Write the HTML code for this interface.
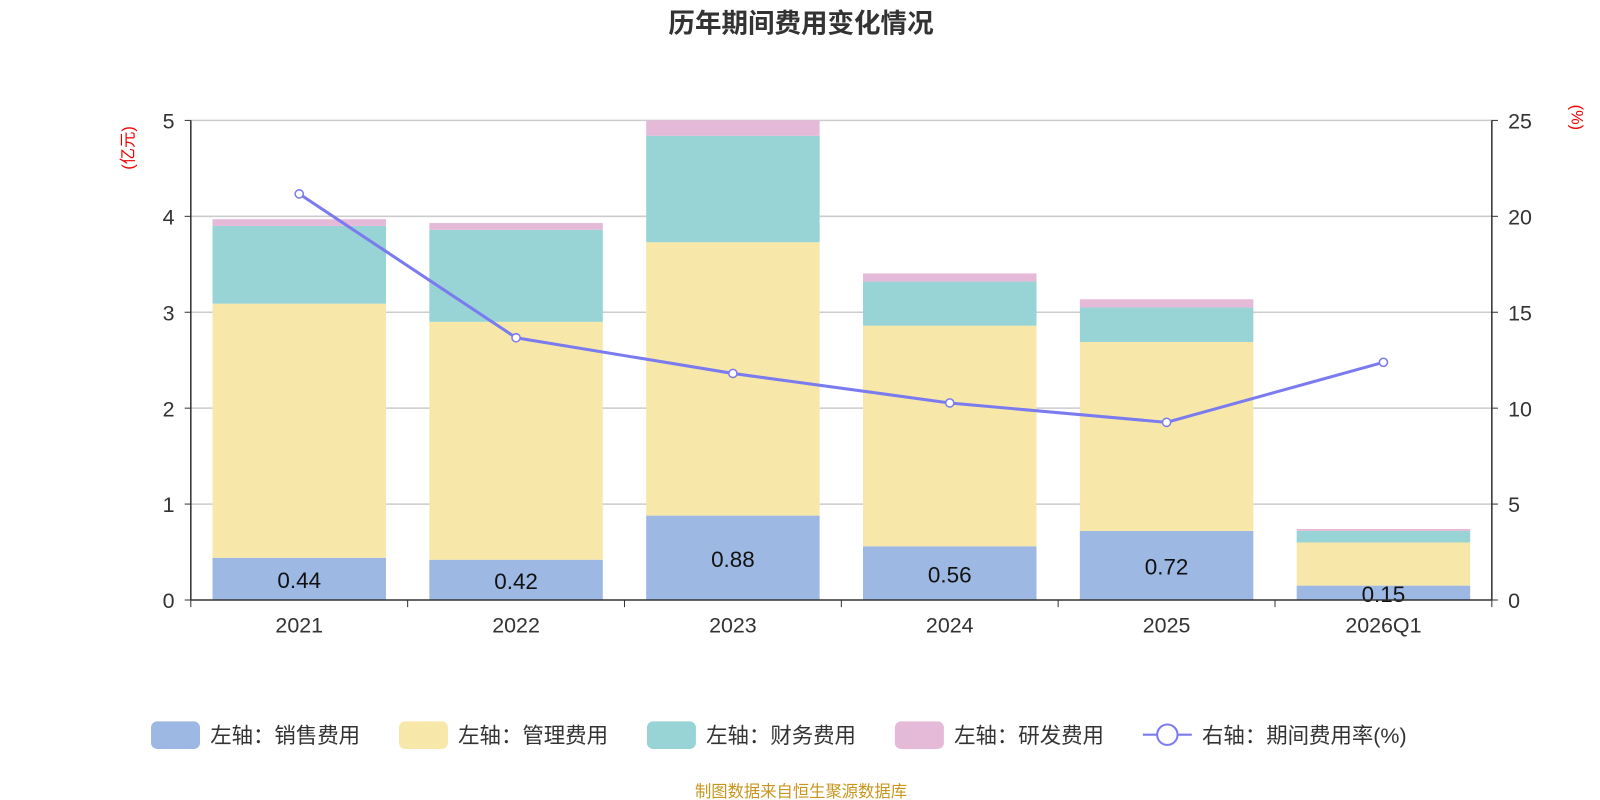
<!DOCTYPE html>
<html><head><meta charset="utf-8"><style>
body{margin:0;background:#fff;font-family:"Liberation Sans","Noto Sans CJK SC",sans-serif}
svg{display:block}
svg text{font-family:"Liberation Sans","Noto Sans CJK SC",sans-serif}
</style></head><body>
<svg id="c" width="1600" height="800" viewBox="0 0 1568 784" preserveAspectRatio="none" xmlns="http://www.w3.org/2000/svg">
<text x="785" y="32" text-anchor="middle" font-size="26" font-weight="bold" fill="#333">历年期间费用变化情况</text>
<text transform="translate(131,145) rotate(-90)" text-anchor="middle" font-size="16" fill="#e00">(亿元)</text>
<text transform="translate(1540,115) rotate(90)" text-anchor="middle" font-size="16" fill="#e00">(%)</text>
<g id="grid"></g><g id="bars"></g><g id="line"></g><g id="axes"></g>
<g id="legend"></g>
<text x="785" y="781" text-anchor="middle" font-size="16" fill="#c8961e">制图数据来自恒生聚源数据库</text>
</svg>
<script>
const categories=["2021","2022","2023","2024","2025","2026Q1"];
const sales=[0.44,0.42,0.88,0.56,0.72,0.15];
const mgmt=[2.65,2.48,2.85,2.30,1.97,0.45];
const fin=[0.81,0.96,1.11,0.46,0.36,0.12];
const rd=[0.07,0.07,0.16,0.085,0.085,0.02];
const rate=[21.17,13.67,11.81,10.27,9.26,12.39];
const leftTicks=[0,1,2,3,4,5];
const rightTicks=[0,5,10,15,20,25];
const NS="http://www.w3.org/2000/svg";
const X0=187,X1=1462,Y0=588,Y1=118;
const band=(X1-X0)/categories.length;
const yL=v=>Y0-(v/5)*(Y0-Y1);
const yR=v=>Y0-(v/25)*(Y0-Y1);
const xc=i=>X0+band*(i+0.5);
function mk(t,a,p){const e=document.createElementNS(NS,t);for(const k in a)e.setAttribute(k,a[k]);p.appendChild(e);return e;}
const grid=document.getElementById('grid'),bars=document.getElementById('bars'),line=document.getElementById('line'),axes=document.getElementById('axes'),legend=document.getElementById('legend');
leftTicks.forEach((t,i)=>{
 if(t>0){const g=mk('line',{x1:X0,x2:X1,y1:yL(t),y2:yL(t),stroke:'#ccc','stroke-width':1.5},grid);
 
 }
 const l=mk('text',{x:X0-16,y:yL(t)+8,'text-anchor':'end','font-size':21,fill:'#333'},axes);l.textContent=t;
 
 
});
rightTicks.forEach(t=>{
 const l=mk('text',{x:X1+16,y:yR(t)+8,'font-size':21,fill:'#333'},axes);l.textContent=t;
 
 
});
mk('line',{x1:X0,x2:X1,y1:Y0,y2:Y0,stroke:'#333','stroke-width':1.5},axes);
mk('line',{x1:X0,x2:X0,y1:Y1,y2:Y0,stroke:'#333','stroke-width':1.5},axes);
mk('line',{x1:X1,x2:X1,y1:Y1,y2:Y0,stroke:'#333','stroke-width':1.5},axes);
leftTicks.forEach(t=>{mk('line',{x1:X0-6,x2:X0,y1:yL(t),y2:yL(t),stroke:'#333'},axes);mk('line',{x1:X1,x2:X1+6,y1:yL(t),y2:yL(t),stroke:'#333'},axes);});
for(let i=0;i<=categories.length;i++)mk('line',{x1:X0+band*i,x2:X0+band*i,y1:Y0,y2:Y0+7,stroke:'#333'},axes);
const series=[[sales,'#9db8e2','sales'],[mgmt,'#f7e8a9','mgmt'],[fin,'#98d4d5','fin'],[rd,'#e5b9d8','rd']];
const bw=170;
categories.forEach((c,i)=>{
 let base=0;
 series.forEach(([arr,col,nm])=>{
  const top=base+arr[i];
  const r=mk('rect',{x:xc(i)-bw/2,y:yL(top),width:bw,height:yL(base)-yL(top),fill:col},bars);
  
  
  base=top;
 });
 const lb=mk('text',{x:xc(i),y:(yL(0)+yL(sales[i]))/2+9,'text-anchor':'middle','font-size':22,fill:'#111'},bars);lb.textContent=sales[i].toFixed(2);
 
 
 const xl=mk('text',{x:xc(i),y:Y0+32,'text-anchor':'middle','font-size':21,fill:'#333'},axes);xl.textContent=c;
 
 
});
const pl=mk('polyline',{points:rate.map((v,i)=>xc(i)+','+yR(v)).join(' '),fill:'none',stroke:'#7b7bf0','stroke-width':3},line);


rate.forEach((v,i)=>{const p=mk('circle',{cx:xc(i),cy:yR(v),r:4,fill:'#fff',stroke:'#7b7bf0','stroke-width':1.5},line);
 
 });
const leg=[['左轴：销售费用','#9db8e2',148],['左轴：管理费用','#f7e8a9',391],['左轴：财务费用','#98d4d5',634],['左轴：研发费用','#e5b9d8',877]];
leg.forEach(([t,col,x])=>{
 const g=mk('g',{},legend);
 
 
 mk('rect',{x:x,y:707,width:48,height:27,rx:6,fill:col},g);
 const tx=mk('text',{x:x+58,y:728,'font-size':21,fill:'#333'},g);tx.textContent=t;
});
const g=mk('g',{},legend);


mk('line',{x1:1120,x2:1168,y1:720,y2:720,stroke:'#7b7bf0','stroke-width':2},g);
mk('circle',{cx:1144,cy:720,r:10,fill:'#fff',stroke:'#7b7bf0','stroke-width':2},g);
const tx=mk('text',{x:1178,y:728,'font-size':21,fill:'#333'},g);tx.textContent='右轴：期间费用率(%)';
</script>
</body></html>
